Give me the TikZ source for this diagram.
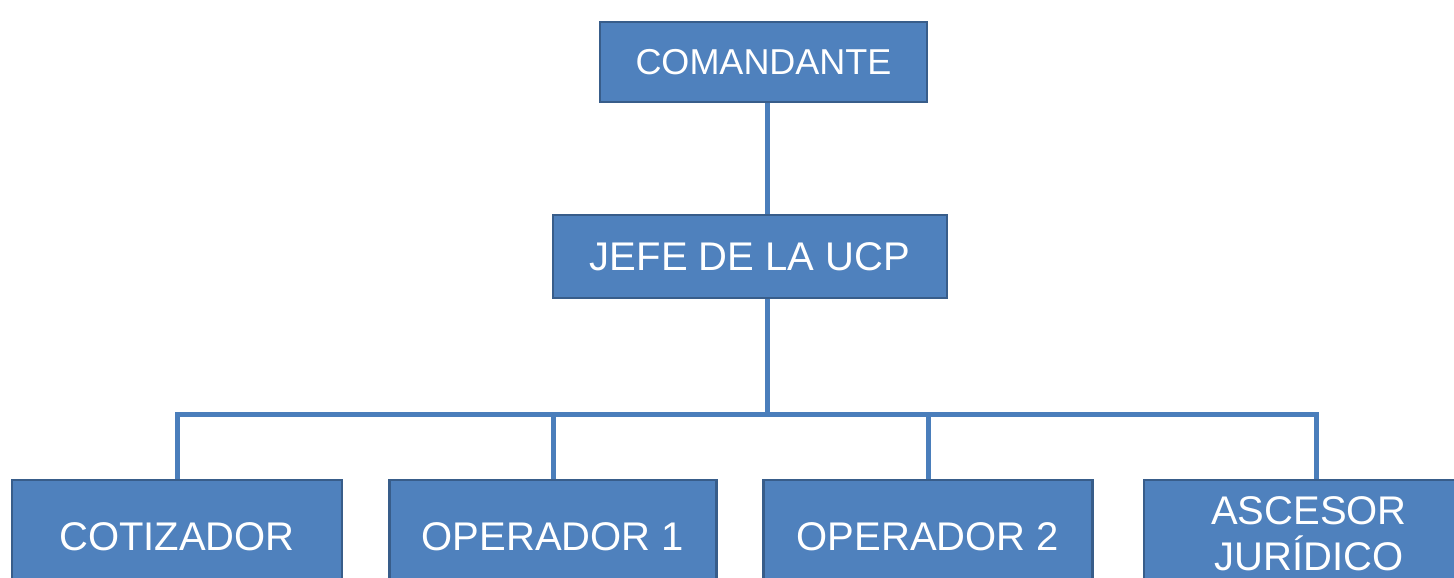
\documentclass[tikz,border=0pt]{standalone}
\usepackage{fontspec}
\setmainfont{Liberation Sans}
\usetikzlibrary{backgrounds}
\definecolor{boxfill}{HTML}{4F81BD}
\definecolor{boxline}{HTML}{385D8A}
\definecolor{linkcol}{HTML}{4A7EBB}
\begin{document}
\begin{tikzpicture}[x=1pt,y=-1pt,
  orgbox/.style={draw=boxline,line width=2.5pt,fill=boxfill,text=white,
    inner sep=0pt,align=center,rectangle},
  link/.style={draw=linkcol,line width=5pt}]
\useasboundingbox (0,0) rectangle (1454,578);
\clip (0,0) rectangle (1454,578);
\node[orgbox,minimum width=327pt,minimum height=80pt,font=\fontsize{36}{40}\selectfont] (cmd) at (763.5,62) {COMANDANTE};
\node[orgbox,minimum width=394pt,minimum height=83pt,font=\fontsize{40}{44}\selectfont] (jefe) at (750,256.5) {JEFE DE LA UCP};
\begin{scope}[font=\fontsize{40}{46}\selectfont]
\node[orgbox,minimum width=330pt,minimum height=114pt] (cot) at (177,537) {COTIZADOR};
\node[orgbox,minimum width=327pt,minimum height=114pt] (op1) at (553,537) {OPERADOR 1};
\node[orgbox,minimum width=329pt,minimum height=114pt] (op2) at (928,537) {OPERADOR 2};
\node[orgbox,minimum width=330pt,minimum height=108pt] (asc) at (1309,534) {ASCESOR\\JURÍDICO};
\end{scope}
\coordinate (bar) at (767,414);
\begin{scope}[on background layer]
\fill[white] (0,0) rectangle (1454,578);
\path[link] (cmd.south -| bar) -- (jefe.north -| bar);
\path[link] (jefe.south -| bar) -- (bar);
\path[link,line cap=rect] (cot.north) |- (bar);
\path[link] (op1.north) |- (bar);
\path[link] (op2.north) |- (bar);
\path[link,line cap=rect] ([xshift=7pt]asc.north) |- (bar);
\end{scope}
\end{tikzpicture}
\end{document}
